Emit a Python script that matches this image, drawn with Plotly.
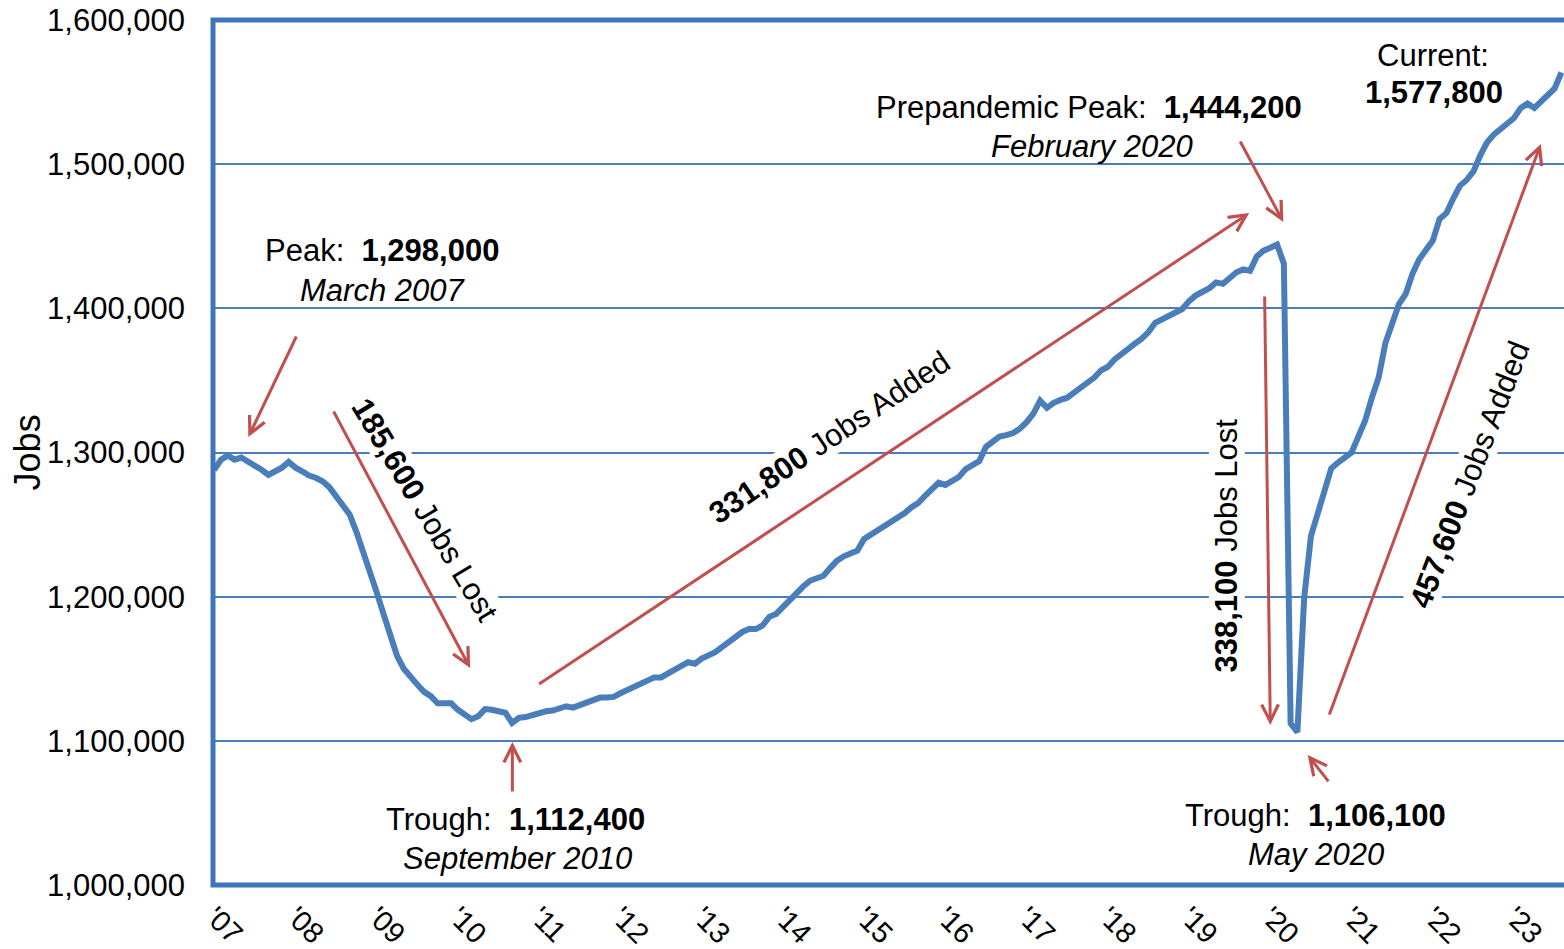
import plotly.graph_objects as go

# monthly jobs, Jan..Dec of each year
jobs_2007 = [1288000, 1295000, 1298000, 1295000, 1296500, 1294000, 1290500, 1288000, 1284500, 1286500, 1289500, 1293500]
jobs_2008 = [1289500, 1287000, 1284000, 1282500, 1280000, 1276000, 1269500, 1263000, 1257000, 1245000, 1232000, 1217000]
jobs_2009 = [1203000, 1188000, 1174000, 1159000, 1150000, 1144000, 1139000, 1134000, 1131000, 1126000, 1125500, 1126000]
jobs_2010 = [1121500, 1118500, 1115000, 1117000, 1122000, 1121500, 1120500, 1119500, 1112400, 1116000, 1116500, 1118000]
jobs_2011 = [1120000, 1120500, 1121000, 1122000, 1124000, 1123000, 1125000, 1127000, 1129000, 1130000, 1130000, 1130500]
jobs_2012 = [1133000, 1135000, 1137000, 1139500, 1142000, 1144000, 1144000, 1147000, 1149000, 1152000, 1154500, 1153500]
jobs_2013 = [1157000, 1159000, 1161500, 1165000, 1168500, 1171000, 1175500, 1177500, 1177500, 1180000, 1186000, 1188000]
jobs_2014 = [1193000, 1198000, 1203000, 1207000, 1211000, 1213000, 1214500, 1220000, 1225000, 1228000, 1230500, 1232000]
jobs_2015 = [1240000, 1243000, 1245000, 1249000, 1252000, 1255000, 1258000, 1262000, 1265000, 1270000, 1275000, 1279000]
jobs_2016 = [1277500, 1280000, 1283000, 1288500, 1291500, 1294000, 1304000, 1308000, 1311000, 1312000, 1313500, 1316500]
jobs_2017 = [1321000, 1327000, 1336000, 1331000, 1334500, 1336500, 1338000, 1341500, 1345000, 1347500, 1352000, 1357000]
jobs_2018 = [1359500, 1364500, 1368500, 1372000, 1375500, 1379000, 1383500, 1390000, 1392500, 1395000, 1397500, 1399500]
jobs_2019 = [1405000, 1409000, 1411500, 1414000, 1418000, 1417000, 1421000, 1425000, 1427000, 1426000, 1436000, 1440000]
jobs_2020 = [1442000, 1444200, 1431000, 1112000, 1106100, 1199000, 1242000, 1257000, 1274000, 1289000, 1293000, 1296000]
jobs_2021 = [1300000, 1311000, 1322000, 1338000, 1352000, 1376000, 1391000, 1403000, 1410000, 1424000, 1434000, 1440000]
jobs_2022 = [1447000, 1462000, 1466000, 1476000, 1485000, 1489000, 1495000, 1506000, 1515000, 1520500, 1524000, 1527500]
jobs_2023 = [1532000, 1539000, 1542000, 1539000, 1543500, 1548000, 1552500, 1563700]

years = list(range(2007, 2024))
year_labels = ["'07", "'08", "'09", "'10", "'11", "'12", "'13", "'14", "'15",
               "'16", "'17", "'18", "'19", "'20", "'21", "'22", "'23"]
y_ticks = [1000000, 1100000, 1200000, 1300000, 1400000, 1500000, 1600000]

jobs = (jobs_2007 + jobs_2008 + jobs_2009 + jobs_2010 + jobs_2011 + jobs_2012
        + jobs_2013 + jobs_2014 + jobs_2015 + jobs_2016 + jobs_2017 + jobs_2018
        + jobs_2019 + jobs_2020 + jobs_2021 + jobs_2022 + jobs_2023)
months = [2007 + i / 12 for i in range(len(jobs))]

FONT = "Liberation Sans, Arial, sans-serif"
BLUE = "#4a7ebb"
FRAME = "#3d74bb"
RED = "#c0504d"
NB = "\u00a0"

fig = go.Figure(go.Scatter(
    x=months, y=jobs, mode="lines",
    line=dict(color=BLUE, width=6),
    hovertemplate="%{y:,.0f}<extra></extra>"
))


def label(x, y, text, size=31, angle=0, bg=None):
    fig.add_annotation(
        x=x, y=y, xref="x", yref="y", text=text, showarrow=False,
        textangle=angle, font=dict(family=FONT, size=size, color="black"),
        bgcolor=bg, borderpad=0
    )


def arrow(x0, y0, x1, y1):
    # tail (x0, y0) -> head (x1, y1)
    fig.add_annotation(
        x=x1, y=y1, ax=x0, ay=y0, xref="x", yref="y", axref="x", ayref="y",
        text="", showarrow=True, arrowhead=5, arrowsize=1.1, arrowwidth=3,
        arrowcolor=RED, standoff=0, startstandoff=0
    )


# text labels
label(2009.07, 1439800, f"Peak:{NB}{NB}<b>1,298,000</b>")
label(2009.07, 1412700, "<i>March 2007</i>")
label(2009.60, 1260000, f"<b>185,600</b> Jobs Lost", angle=59, bg="white")
label(2014.57, 1310700, f"<b>331,800</b> Jobs Added", angle=-34, bg="white")
label(2017.77, 1539000, f"Prepandemic Peak:{NB}{NB}<b>1,444,200</b>")
label(2017.80, 1512600, "<i>February 2020</i>")
label(2019.46, 1235800, f"<b>338,100</b> Jobs Lost", angle=-90, bg="white")
label(2022.46, 1284400, f"<b>457,600</b> Jobs Added", angle=-69, bg="white")
label(2010.71, 1045100, f"Trough:{NB}{NB}<b>1,112,400</b>")
label(2010.73, 1018700, "<i>September 2010</i>")
label(2020.55, 1047900, f"Trough:{NB}{NB}<b>1,106,100</b>")
label(2020.56, 1021500, "<i>May 2020</i>")
label(2022.00, 1575700, "Current:")
label(2022.01, 1549400, "<b>1,577,800</b>")

# arrows
arrow(2008.02, 1381500, 2007.42, 1310700)
arrow(2008.46, 1329500, 2010.15, 1150500)
arrow(2010.67, 1063800, 2010.67, 1099200)
arrow(2010.98, 1138700, 2019.74, 1466100)
arrow(2019.62, 1516800, 2020.16, 1459900)
arrow(2019.93, 1409200, 2020.00, 1111000)
arrow(2020.73, 1070800, 2020.46, 1090200)
arrow(2020.72, 1117200, 2023.33, 1514000)

# y-axis title
fig.add_annotation(
    x=-0.137, y=0.5, xref="paper", yref="paper", text="Jobs",
    xanchor="center", yanchor="middle",
    textangle=-90, showarrow=False,
    font=dict(family=FONT, size=36, color="black")
)

# plot frame (right side runs off the page like the original)
fig.add_shape(
    type="rect", xref="paper", yref="paper", x0=0, x1=1.05, y0=0, y1=1,
    line=dict(color=FRAME, width=5), layer="above"
)

fig.update_layout(
    width=1564, height=949,
    margin=dict(l=213, r=0, t=20, b=64),
    paper_bgcolor="white", plot_bgcolor="white",
    showlegend=False,
    font=dict(family=FONT, color="black"),
    xaxis=dict(
        range=[2006.985, 2023.615],
        tickmode="array", tickvals=years, ticktext=year_labels,
        tickangle=45, tickfont=dict(size=29),
        showgrid=False, zeroline=False, showline=False, ticks="",
        ticklabelstandoff=8
    ),
    yaxis=dict(
        range=[1000000, 1600000],
        tickmode="array", tickvals=y_ticks, tickformat=",d",
        tickfont=dict(size=31),
        showgrid=True, gridcolor=BLUE, gridwidth=1.5,
        zeroline=False, showline=False, ticks="",
        ticklabelstandoff=27, ticklabeloverflow="allow"
    ),
)

# drop the page's default body margin so the figure fills the window
fig.write_html(
    "out.html",
    config={"displayModeBar": False},
    post_script="document.body.style.margin='0';document.body.style.overflow='hidden';"
)
